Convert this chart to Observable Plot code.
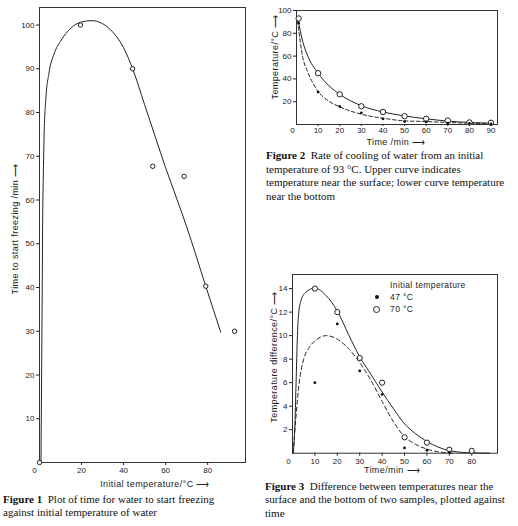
<!DOCTYPE html>
<html><head><meta charset="utf-8">
<script src="https://cdn.jsdelivr.net/npm/d3@7"></script>
<script src="https://cdn.jsdelivr.net/npm/@observablehq/plot@0.6"></script>
<style>
html,body{margin:0;padding:0;background:#fff;}
body{width:518px;height:526px;position:relative;overflow:hidden;font-family:"Liberation Sans",sans-serif;color:#222;}
.abs{position:absolute;}
.cap{font-family:"Liberation Serif",serif;font-size:11px;line-height:13.3px;color:#111;white-space:nowrap;}
.lab{font-family:"Liberation Sans",sans-serif;font-size:9px;letter-spacing:0.4px;color:#222;white-space:nowrap;text-align:center;width:220px;height:12px;line-height:12px;}
.rot{transform:rotate(-90deg);transform-origin:center center;}
.leg{font-family:"Liberation Sans",sans-serif;font-size:8.5px;letter-spacing:0.4px;color:#222;white-space:nowrap;line-height:10px;}
.sym{position:absolute;border-radius:50%;box-sizing:border-box;}
</style></head><body>
<div id="f1" class="abs" style="left:0;top:0"></div>
<div id="f2" class="abs" style="left:260px;top:0"></div>
<div id="f3" class="abs" style="left:260px;top:268px"></div>

<div class="abs lab" style="left:45px;top:478px">Initial temperature/°C ⟶</div>
<div class="abs lab rot" style="left:-95px;top:223px">Time to start freezing /min ⟶</div>

<div class="abs lab" style="left:286px;top:135.5px">Time /min ⟶</div>
<div class="abs lab rot" style="left:165px;top:51px">Temperature/°C ⟶</div>

<div class="abs lab" style="left:282px;top:464px">Time/min ⟶</div>
<div class="abs lab rot" style="left:164px;top:351px">Temperature difference/°C ⟶</div>

<div class="abs leg" style="left:390px;top:280px">Initial temperature</div>
<div class="sym" style="left:374.5px;top:295px;width:4px;height:4px;background:#111"></div>
<div class="abs leg" style="left:390px;top:292px">47 °C</div>
<div class="sym" style="left:373px;top:305.5px;width:7px;height:7px;border:1px solid #222;background:#fff"></div>
<div class="abs leg" style="left:390px;top:304px">70 °C</div>

<div class="abs cap" style="left:3px;top:493px"><b>Figure 1</b>&nbsp; Plot of time for water to start freezing<br>against initial temperature of water</div>
<div class="abs cap" style="left:266px;top:149px;line-height:13.5px"><b>Figure 2</b>&nbsp; Rate of cooling of water from an initial<br>temperature of 93 °C. Upper curve indicates<br>temperature near the surface; lower curve temperature<br>near the bottom</div>
<div class="abs cap" style="left:265px;top:480px"><b>Figure 3</b>&nbsp; Difference between temperatures near the<br>surface and the bottom of two samples, plotted against<br>time</div>

<script>
// ---------- Figure 1: time to start freezing vs initial temperature ----------
const fig1Temp = [0, 19.5, 44.3, 53.9, 68.8, 79.1, 92.8];
const fig1Time = [0, 100, 90, 67.7, 65.4, 40.3, 30];
const fig1CurveTemp = [0.7, 1.0, 1.3, 1.5, 1.8, 2.2, 3, 4.5, 7, 10, 15, 20, 25, 30, 35, 40, 44.3, 50, 60, 70, 79.1, 86.2];
const fig1CurveTime = [0, 20, 40, 55, 65, 75, 83, 89, 93.5, 96.3, 99.3, 100.7, 101, 100.3, 98.3, 94.8, 90, 81.8, 67.4, 53.9, 40.3, 29.8];
const fig1XTicks = [20, 40, 60, 80];
const fig1YTicks = [10, 20, 30, 40, 50, 60, 70, 80, 90, 100];

// ---------- Figure 2: cooling from 93 °C ----------
const fig2Time = [1, 10, 20, 30, 40, 50, 60, 70, 80, 90];
const fig2Surface = [93, 45, 26.5, 16, 11, 7.3, 5, 3.5, 1.8, 1.5];
const fig2Bottom = [89, 28.4, 15.8, 10.2, 5, 2.6, 2.3, 1.2, 0.9, 0.6];
const fig2CurveTime = [0.5, 3, 5, 10, 15, 20, 30, 40, 50, 60, 70, 80, 90];
const fig2CurveSurface = [94, 72, 61, 45, 34, 26.5, 16.5, 11, 7.5, 5, 3, 1.8, 1.2];
const fig2CurveBottom = [91, 58, 47, 29, 20.5, 15.5, 9, 5.5, 3.2, 2.6, 1.8, 1.1, 0.6];
const fig2XTicks = [10, 20, 30, 40, 50, 60, 70, 80, 90];
const fig2YTicks = [20, 40, 60, 80, 100];

// ---------- Figure 3: surface - bottom temperature difference ----------
const fig3Time70 = [10, 20, 30, 40, 50, 60, 70, 80];
const fig3Diff70 = [14, 12, 8.1, 6, 1.35, 0.9, 0.3, 0.2];
const fig3Time47 = [10, 20, 30, 40, 50, 60, 70];
const fig3Diff47 = [6, 11, 7, 5, 0.45, 0.25, 0.08];
const fig3CurveTime70 = [0.3, 1, 1.6, 2.2, 2.8, 4, 6, 10, 15, 20, 25, 30, 35, 40, 45, 50, 55, 60, 65, 70, 75, 80, 88];
const fig3Curve70 = [0, 2, 6, 10, 12, 13.1, 13.7, 14.05, 13.4, 12.1, 10.1, 8.2, 6.7, 5.2, 3.8, 2.5, 1.65, 1.0, 0.52, 0.22, 0.08, 0.03, 0];
const fig3CurveTime47 = [0.3, 1.5, 3, 5, 7.5, 11, 15, 20, 25, 30, 35, 40, 45, 50, 55, 60, 65, 72];
const fig3Curve47 = [0, 3, 6, 8, 9, 9.7, 10, 9.7, 8.9, 7.7, 6.2, 4.4, 2.7, 1.4, 0.75, 0.35, 0.12, 0];
const fig3XTicks = [10, 20, 30, 40, 50, 60, 70, 80];
const fig3YTicks = [2, 4, 6, 8, 10, 12, 14];

const zip = (xs, ys) => xs.map((x, i) => ({x, y: ys[i]}));
const ink = "#222";
const baseStyle = {fontFamily: "Liberation Sans, sans-serif", fontSize: "8px", color: ink, background: "white", overflow: "visible"};

function axes(xTicks, yTicks, zeroDx, xTickSize = 3, xTickPadding = 2) {
  return [
    Plot.axisX({ticks: xTicks, tickSize: xTickSize, tickPadding: xTickPadding, label: null}),
    Plot.axisX({ticks: [0], tickSize: 0, tickPadding: xTickSize + xTickPadding, dx: zeroDx, label: null}),
    Plot.axisY({ticks: yTicks, tickSize: 3, tickPadding: 2, label: null})
  ];
}

const p1 = Plot.plot({
  width: 250, height: 480,
  marginLeft: 39, marginRight: 5, marginTop: 7, marginBottom: 18,
  x: {domain: [0, 98]}, y: {domain: [0, 104]},
  style: baseStyle,
  marks: [
    Plot.frame({stroke: "#333", strokeWidth: 1}),
    ...axes(fig1XTicks, fig1YTicks, -5),
    Plot.line(zip(fig1CurveTemp, fig1CurveTime), {x: "x", y: "y", curve: "monotone-x", stroke: ink, strokeWidth: 1}),
    Plot.dot(zip(fig1Temp, fig1Time), {x: "x", y: "y", r: 2.2, stroke: ink, fill: "white", strokeWidth: 1})
  ]
});
document.getElementById("f1").append(p1);

const p2 = Plot.plot({
  width: 250, height: 145,
  marginLeft: 36, marginRight: 13, marginTop: 10, marginBottom: 21,
  x: {domain: [0, 93]}, y: {domain: [0, 100]},
  style: baseStyle,
  marks: [
    Plot.frame({stroke: "#333", strokeWidth: 1}),
    ...axes(fig2XTicks, fig2YTicks, -4, 2, 0.5),
    Plot.line(zip(fig2CurveTime, fig2CurveSurface), {x: "x", y: "y", curve: "monotone-x", stroke: ink, strokeWidth: 1}),
    Plot.line(zip(fig2CurveTime, fig2CurveBottom), {x: "x", y: "y", curve: "monotone-x", stroke: ink, strokeWidth: 1, strokeDasharray: "3.5,2.5"}),
    Plot.dot(zip(fig2Time, fig2Surface), {x: "x", y: "y", r: 2.7, stroke: ink, fill: "white", strokeWidth: 1}),
    Plot.dot(zip(fig2Time, fig2Bottom), {x: "x", y: "y", r: 1.4, fill: "#111", stroke: "none"})
  ]
});
document.getElementById("f2").append(p2);

const p3 = Plot.plot({
  width: 250, height: 200,
  marginLeft: 32, marginRight: 13, marginTop: 6, marginBottom: 15.3,
  x: {domain: [0, 91.5]}, y: {domain: [0, 15.2]},
  style: baseStyle,
  marks: [
    Plot.frame({stroke: "#333", strokeWidth: 1}),
    ...axes(fig3XTicks, fig3YTicks, -4),
    Plot.line(zip(fig3CurveTime70, fig3Curve70), {x: "x", y: "y", curve: "monotone-x", stroke: ink, strokeWidth: 1}),
    Plot.line(zip(fig3CurveTime47, fig3Curve47), {x: "x", y: "y", curve: "monotone-x", stroke: ink, strokeWidth: 1, strokeDasharray: "4,3"}),
    Plot.dot(zip(fig3Time70, fig3Diff70), {x: "x", y: "y", r: 2.6, stroke: ink, fill: "white", strokeWidth: 1}),
    Plot.dot(zip(fig3Time47, fig3Diff47), {x: "x", y: "y", r: 1.4, fill: "#111", stroke: "none"})
  ]
});
document.getElementById("f3").append(p3);
</script>
</body></html>
